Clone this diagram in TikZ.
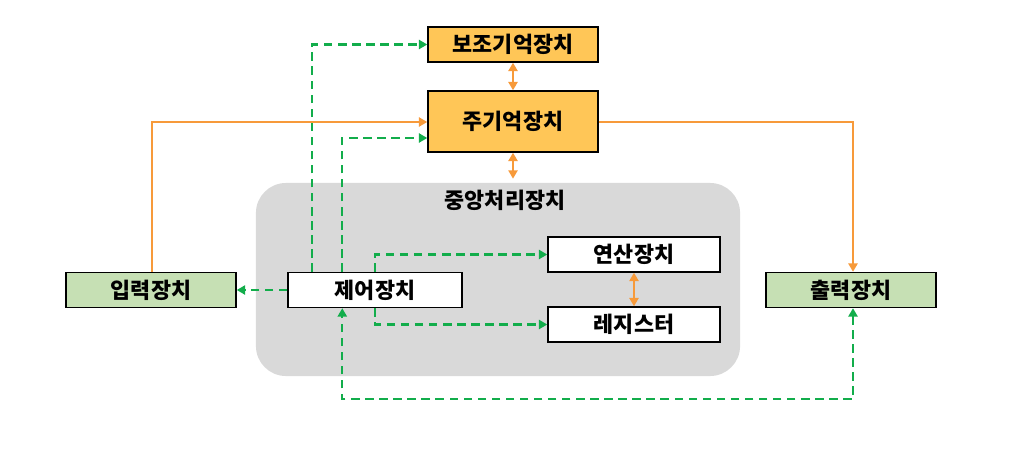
\documentclass[tikz,border=0pt]{standalone}
\usepackage{fontspec}
\setmainfont{Noto Sans CJK KR}
\usepackage{xcolor}
\definecolor{memfill}{RGB}{255,198,87}
\definecolor{iofill}{RGB}{198,224,180}
\definecolor{cpufill}{RGB}{217,217,217}
\definecolor{dataline}{RGB}{247,154,58}
\definecolor{ctrlline}{RGB}{18,173,75}
\usetikzlibrary{positioning, arrows.meta, calc}

\begin{document}
\begin{tikzpicture}[
  x=0.025cm, y=-0.025cm,
  unit/.style={draw=black, line width=1pt, minimum width=4.25cm, minimum height=0.875cm,
    inner sep=0pt, font=\fontsize{15.5}{17}\selectfont\bfseries},
  mem/.style={unit, fill=memfill},
  io/.style={unit, fill=iofill},
  core/.style={unit, fill=white},
  dline/.style={draw=dataline, line width=1.7pt},
  cline/.style={draw=ctrlline, line width=1.7pt, dash pattern=on 6pt off 4pt},
  tip/.style={-{Triangle[length=6pt,width=6.5pt]}},
  tips/.style={{Triangle[length=6pt,width=6.5pt]}-{Triangle[length=6pt,width=6.5pt]}},
]
\useasboundingbox (0,0) rectangle (1010,448);

% CPU block
\node[fill=cpufill, rounded corners=0.75cm, minimum width=12.1cm, minimum height=4.825cm] (cpu) at (498,279.5) {};
\node[font=\fontsize{15.5}{17}\selectfont\bfseries] (cputitle) at (505,200) {중앙처리장치};

% memory
\node[mem] (aux) at (513,44.5) {보조기억장치};
\node[mem, minimum height=1.525cm] (main) at (513,121.5) {주기억장치};

% input / output
\node[io] (input) at (151,290) {입력장치};
\node[io] (output) at (851,290) {출력장치};

% inside the CPU
\node[core, minimum width=4.35cm] (ctrl) at (375,290) {제어장치};
\node[core, minimum width=4.3cm] (alu) at (634,254.5) {연산장치};
\node[core, minimum width=4.3cm] (reg) at (634,324.5) {레지스터};

% data flow
\draw[dline, tip] ($(input.north)+(1,0)$) |- ($(main.west)+(0,0.5)$);
\draw[dline, tip] ($(main.east)+(0,0.5)$) -| ($(output.north)+(2,0)$);
\draw[dline, tips] (aux.south) -- (main.north);
\draw[dline, tips] (main.south) -- ($(cpu.north)+(15,-4)$);
\draw[dline, tips] (alu.south) -- (reg.north);

% control flow
\draw[cline, tip] ($(ctrl.north west)+(25,0)$) |- (aux.west);
\draw[cline, tip] ($(ctrl.north west)+(55,0)$) |- ($(main.west)+(0,16.5)$);
\draw[cline, tip] (ctrl.west) -- (input.east);
\draw[cline, tip] (ctrl.north) |- (alu.west);
\draw[cline, tip] (ctrl.south) |- (reg.west);
\draw[cline, tips] ($(output.south)+(2,0)$) -- ++(0,91) -| ($(ctrl.south west)+(55,0)$);
\end{tikzpicture}
\end{document}
